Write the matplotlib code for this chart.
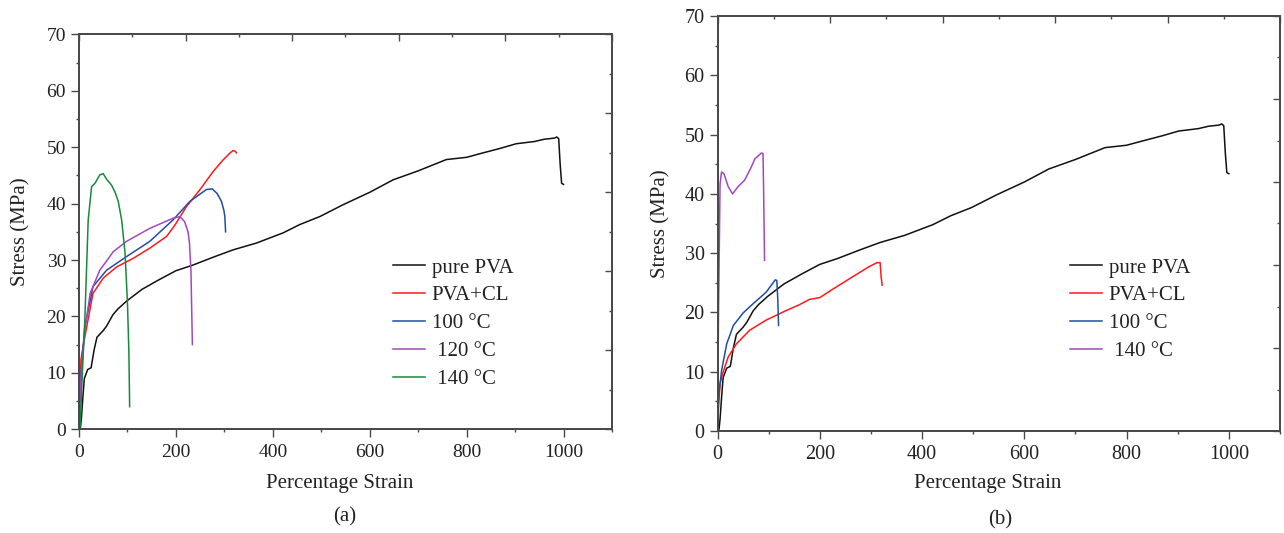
import matplotlib
matplotlib.use("Agg")
import matplotlib.pyplot as plt
from matplotlib.ticker import MultipleLocator, NullFormatter

plt.rcParams['font.family'] = ['Liberation Serif', 'DejaVu Serif']

# ---------------- data (strain %, stress MPa) ----------------
pva_s = [0, 3, 5, 8, 11, 18, 25, 31, 37, 50, 57, 70, 80, 98, 130, 165, 200, 235, 277,
         318, 366, 421, 456, 497, 545, 600, 648, 700, 758, 800, 830, 870, 902, 940,
         960, 981, 986, 990, 993, 996, 1000]
pva_y = [0, 0.3, 2, 5.7, 9, 10.6, 10.9, 14, 16.3, 17.5, 18.3, 20.3, 21.3, 22.7, 24.8,
         26.5, 28.1, 29.1, 30.5, 31.8, 33.0, 34.8, 36.3, 37.7, 39.8, 42.0, 44.2, 45.8,
         47.8, 48.2, 48.9, 49.8, 50.6, 51.0, 51.4, 51.6, 51.8, 51.5, 47.0, 43.6, 43.4]

# panel (a)
cl_a_s = [0, 2, 4, 8, 16, 29, 50, 78, 112, 146, 181, 198, 222, 249, 277, 297, 312, 318, 322, 325]
cl_a_y = [0, 6, 12.3, 14.5, 18.2, 24.1, 26.8, 28.8, 30.3, 32.1, 34.2, 36.2, 39.5, 42.4,
          45.7, 47.7, 49.0, 49.4, 49.3, 49.0]

t100_a_s = [0, 2, 5, 12, 29, 57, 98, 146, 194, 229, 263, 275, 285, 294, 299, 301, 302.5]
t100_a_y = [0, 6, 11, 18.2, 25.3, 28.2, 30.6, 33.3, 37.1, 40.4, 42.5, 42.6, 41.8, 40.4,
            38.8, 37.7, 35.0]

t120_a_s = [0, 2, 5, 12, 23, 43, 71, 98, 146, 194, 208, 218, 225, 228, 231, 234]
t120_a_y = [0, 5, 10.5, 17.5, 24.1, 28.2, 31.5, 33.3, 35.6, 37.4, 37.7, 36.8, 35.0,
            33.0, 28.2, 15.0]

t140_a_s = [0, 2, 7, 12, 19, 26, 33, 43, 50, 57, 67, 74, 81, 88, 95, 100, 103, 104.5]
t140_a_y = [0, 0, 10, 19.4, 37.1, 43.0, 43.6, 45.1, 45.3, 44.3, 43.3, 42.1, 40.4, 37.1,
            31.3, 22.4, 13.5, 4.0]

# panel (b)
cl_b_s = [0, 2, 5, 10, 21, 37, 63, 95, 134, 160, 180, 200, 225, 264, 296, 312, 318, 320, 322]
cl_b_y = [0, 4, 8, 9.7, 12.5, 14.7, 17.0, 18.7, 20.3, 21.3, 22.2, 22.5, 23.9, 26.0, 27.7,
          28.4, 28.4, 26.0, 24.6]

t100_b_s = [0, 2, 8, 18, 31, 50, 70, 95, 113, 116, 118, 119.4]
t100_b_y = [0, 5.7, 10.2, 14.7, 17.8, 19.9, 21.5, 23.4, 25.5, 25.4, 22.0, 17.8]

t140_b_s = [0, 2, 5, 8, 12.6, 21, 29.5, 40, 53, 66, 73, 86, 89, 90, 92]
t140_b_y = [0, 20, 41.7, 43.7, 43.4, 41.2, 40.0, 41.2, 42.3, 44.5, 45.9, 46.9, 46.8, 41.7, 28.8]

labels_a = ["pure PVA", "PVA+CL", "100 °C", " 120 °C", " 140 °C"]
labels_b = ["pure PVA", "PVA+CL", "100 °C", " 140 °C"]

C_BLACK = "#111111"
C_RED = "#ff1a1a"
C_BLUE = "#1f4ea6"
C_PURPLE = "#a347bf"
C_GREEN = "#168a3c"

W, H = 1284, 533
fig = plt.figure(figsize=(W / 100, H / 100), dpi=100)

SP = "#4a4a4a"
TXT = "#222222"


def style(ax, tick_fs):
    ax.set_xlim(0, 1100)
    ax.set_ylim(0, 70)
    ax.xaxis.set_major_locator(MultipleLocator(200))
    ax.xaxis.set_minor_locator(MultipleLocator(100))
    ax.yaxis.set_major_locator(MultipleLocator(10))
    ax.yaxis.set_minor_locator(MultipleLocator(5))
    ax.tick_params(which='major', direction='out', length=5.8, width=1.0, color=SP,
                   labelsize=tick_fs, labelcolor=TXT, top=False, right=False)
    ax.tick_params(axis='x', which='major', pad=4.5)
    ax.tick_params(axis='y', which='major', pad=3.5)
    ax.tick_params(which='minor', direction='out', length=2.4, width=1.0, color=SP,
                   top=False, right=False)
    for sp in ax.spines.values():
        sp.set_linewidth(1.2)
        sp.set_color(SP)
    # top axis (independent scale, 0-1000)
    axt = ax.twiny()
    axt.set_xlim(0, 1000)
    axt.xaxis.set_major_locator(MultipleLocator(200))
    axt.xaxis.set_minor_locator(MultipleLocator(100))
    axt.xaxis.set_major_formatter(NullFormatter())
    axt.tick_params(which='major', direction='in', length=4.7, width=1.0, color=SP)
    axt.tick_params(which='minor', direction='in', length=2.2, width=1.0, color=SP)
    # right axis (independent scale, 0-50)
    axr = ax.twinx()
    axr.set_ylim(0, 50)
    axr.yaxis.set_major_locator(MultipleLocator(10))
    axr.yaxis.set_minor_locator(MultipleLocator(5))
    axr.yaxis.set_major_formatter(NullFormatter())
    axr.tick_params(which='major', direction='in', length=4.7, width=1.0, color=SP)
    axr.tick_params(which='minor', direction='in', length=2.2, width=1.0, color=SP)
    for a in (axt, axr):
        for sp in a.spines.values():
            sp.set_linewidth(1.2)
            sp.set_color(SP)


LW = 1.1
LAB_FS = 15
LEG_KW = dict(frameon=False, fontsize=LAB_FS, handlelength=1.55, handletextpad=0.3,
              labelspacing=0.40, borderpad=0, borderaxespad=0, labelcolor=TXT,
              loc='upper left')

# ---------------- panel (a) ----------------
axa = fig.add_axes([79 / W, 1 - 429.3 / H, (612 - 79) / W, (429.3 - 34.3) / H])
style(axa, 14)
axa.plot(pva_s, pva_y, color=C_BLACK, lw=LW, label=labels_a[0])
axa.plot(cl_a_s, cl_a_y, color=C_RED, lw=LW, label=labels_a[1])
axa.plot(t100_a_s, t100_a_y, color=C_BLUE, lw=LW, label=labels_a[2])
axa.plot(t120_a_s, t120_a_y, color=C_PURPLE, lw=LW, label=labels_a[3])
axa.plot(t140_a_s, t140_a_y, color=C_GREEN, lw=LW, label=labels_a[4])
axa.set_xlabel("Percentage Strain", fontsize=LAB_FS, color=TXT)
axa.set_ylabel("Stress (MPa)", fontsize=LAB_FS, color=TXT)
axa.xaxis.set_label_coords((340 - 79) / 533, (429.3 - 474) / 395)
axa.yaxis.set_label_coords((30 - 79) / 533, 0.5)
axa.legend(bbox_to_anchor=((393 - 79) / 533, (429.3 - 258) / 395), **LEG_KW)
fig.text(345 / W, 1 - 517 / H, "(a)", ha='center', va='center', fontsize=LAB_FS, color=TXT)

# ---------------- panel (b) ----------------
axb = fig.add_axes([717.5 / W, 1 - 431 / H, (1280 - 717.5) / W, (431 - 16) / H])
style(axb, 14.5)
axb.plot(pva_s, pva_y, color=C_BLACK, lw=LW, label=labels_b[0])
axb.plot(cl_b_s, cl_b_y, color=C_RED, lw=LW, label=labels_b[1])
axb.plot(t100_b_s, t100_b_y, color=C_BLUE, lw=LW, label=labels_b[2])
axb.plot(t140_b_s, t140_b_y, color=C_PURPLE, lw=LW, label=labels_b[3])
axb.set_xlabel("Percentage Strain", fontsize=LAB_FS, color=TXT)
axb.set_ylabel("Stress (MPa)", fontsize=LAB_FS, color=TXT)
axb.xaxis.set_label_coords((988 - 717.5) / 562.5, (431 - 474) / 415)
axb.yaxis.set_label_coords((670 - 717.5) / 562.5, 0.5)
axb.legend(bbox_to_anchor=((1070 - 717.5) / 562.5, (431 - 258) / 415), **LEG_KW)
fig.text(1000 / W, 1 - 520 / H, "(b)", ha='center', va='center', fontsize=LAB_FS, color=TXT)

fig.savefig("out.png", dpi=100)
